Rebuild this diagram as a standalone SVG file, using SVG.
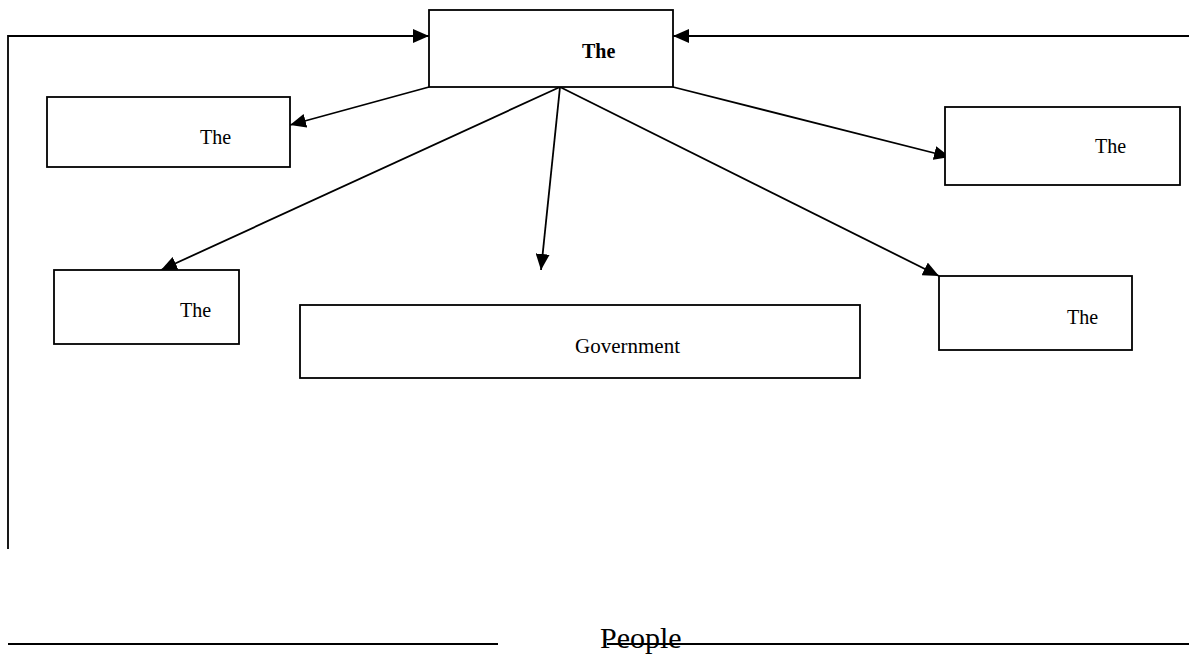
<svg xmlns="http://www.w3.org/2000/svg" width="1189" height="656" viewBox="0 0 1189 656">
<defs>
<marker id="ah" markerWidth="17" markerHeight="14" refX="16" refY="7" orient="auto" markerUnits="userSpaceOnUse">
<path d="M0,0 L16,7 L0,14 z" fill="#000"/>
</marker>
<style>
.box{fill:#fff;stroke:#000;stroke-width:1.8}
.lbl{font-family:"Liberation Serif","Times New Roman",serif;font-size:20px;fill:#000}
.b{font-weight:bold}
.c{fill:none;stroke:#000;stroke-width:1.8}
.a{marker-end:url(#ah)}
</style>
</defs>
<rect width="1189" height="656" fill="#fff"/>
<g id="connectors">
<path class="c a" d="M8,549 L8,36 L429,36"/>
<path class="c a" d="M1189,36 L673,36"/>
<line class="c a" x1="429" y1="87" x2="290" y2="125"/>
<line class="c a" x1="673" y1="87" x2="950" y2="157"/>
<line class="c a" x1="560" y1="87" x2="161" y2="270"/>
<line class="c a" x1="560" y1="87" x2="541" y2="270"/>
<line class="c a" x1="560" y1="87" x2="939" y2="276"/>
<line class="c" x1="8" y1="644" x2="498" y2="644"/>
<line class="c" x1="607" y1="644" x2="1189" y2="644"/>
</g>
<g id="top">
<rect class="box" x="429" y="10" width="244" height="77"/>
<text class="lbl b" x="582" y="58">The</text>
</g>
<g id="left1">
<rect class="box" x="47" y="97" width="243" height="70"/>
<text class="lbl" x="200" y="144">The</text>
</g>
<g id="right1">
<rect class="box" x="945" y="107" width="235" height="78"/>
<text class="lbl" x="1095" y="153">The</text>
</g>
<g id="left2">
<rect class="box" x="54" y="270" width="185" height="74"/>
<text class="lbl" x="180" y="317">The</text>
</g>
<g id="government">
<rect class="box" x="300" y="305" width="560" height="73"/>
<text class="lbl" x="575" y="353" style="font-size:21px">Government</text>
</g>
<g id="right2">
<rect class="box" x="939" y="276" width="193" height="74"/>
<text class="lbl" x="1067" y="324">The</text>
</g>
<g id="people">
<text class="lbl" x="600" y="648" style="font-size:30px">People</text>
</g>
</svg>
